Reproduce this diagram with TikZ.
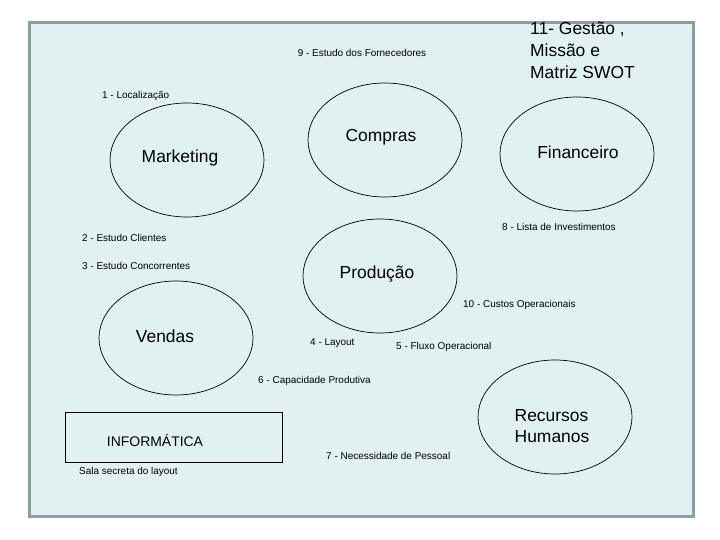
\documentclass[tikz,border=0pt]{standalone}
\usepackage{fontspec}
\setmainfont{Liberation Sans}
\usetikzlibrary{shapes.geometric}
\definecolor{framefill}{HTML}{E1F1F1}
\definecolor{frameline}{HTML}{8C9F9C}
\tikzset{
  dept/.style={draw=black, line width=0.7bp, ellipse, inner sep=0pt,
               minimum width=154bp, minimum height=114bp},
  big/.style={inner sep=0pt, font=\fontsize{17.5}{21}\selectfont},
  small/.style={inner sep=0pt, anchor=west, font=\fontsize{10}{12}\selectfont},
}
\begin{document}
\begin{tikzpicture}[x=1bp,y=-1bp]
\useasboundingbox (0,0) rectangle (720,540);
\fill[white] (0,0) rectangle (720,540);
\draw[frameline, fill=framefill, line width=3bp] (29.5,22.5) rectangle (693,516.5);

% ellipses
\node[dept] (mkt) at (187,160) {};
\node[dept] (cmp) at (385,140) {};
\node[dept] (fin) at (577,154) {};
\node[dept] (prd) at (380,276) {};
\node[dept] (vnd) at (176,338) {};
\node[dept] (rh)  at (555,417) {};

% main labels
\node[big] (tmkt) at (180,158) {Marketing};
\node[big] (tcmp) at (381,137) {Compras};
\node[big] (tfin) at (578,152) {Financeiro};
\node[big] (tprd) at (377,274) {Produção};
\node[big] (tvnd) at (165,336) {Vendas};
\node[big, align=left] (trh) at (552,426) {Recursos\\Humanos};

% Informatica box
\node[draw=black, line width=0.8bp, inner sep=0pt, minimum width=217bp, minimum height=50bp] (inf) at (173.5,437) {};
\node[inner sep=0pt, font=\fontsize{14}{16}\selectfont] (tinf) at (155,441) {INFORMÁTICA};

% title block
\node[big, anchor=north west, align=left, font=\fontsize{17.5}{22}\selectfont] (gst) at (530,22) {11- Gestão ,\\Missão e\\Matriz SWOT};

% small labels
\node[small, anchor=center] (l9) at (362,53) {9 - Estudo dos Fornecedores};
\node[small] (l1) at (102,96) {1 - Localização};
\node[small] (l8) at (502,227) {8 - Lista de Investimentos};
\node[small] (l2) at (82,238) {2 - Estudo Clientes};
\node[small] (l3) at (82,266) {3 - Estudo Concorrentes};
\node[small] (l10) at (463,305) {10 - Custos Operacionais};
\node[small] (l4) at (310,343) {4 - Layout};
\node[small] (l5) at (396,347) {5 - Fluxo Operacional};
\node[small] (l6) at (258,381) {6 - Capacidade Produtiva};
\node[small] (l7) at (326,456) {7 - Necessidade de Pessoal};
\node[small] (lsala) at (79,472) {Sala secreta do layout};
\end{tikzpicture}
\end{document}
